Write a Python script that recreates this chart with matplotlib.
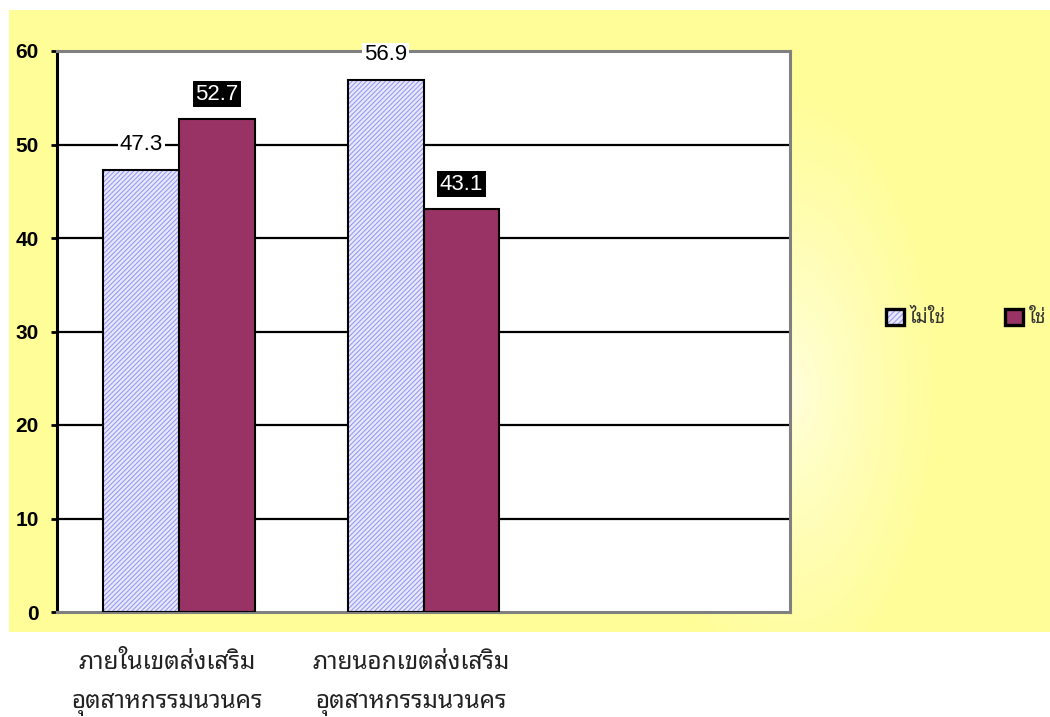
import numpy as np
import matplotlib
matplotlib.use("Agg")
import matplotlib.pyplot as plt
from matplotlib import font_manager
from matplotlib.patches import Patch

categories = ["ภายในเขตส่งเสริม\nอุตสาหกรรมนวนคร", "ภายนอกเขตส่งเสริม\nอุตสาหกรรมนวนคร", ""]
series_names = ["ไม่ใช่", "ใช่"]
values_no = [47.3, 56.9]
values_yes = [52.7, 43.1]
y_ticks = [0, 10, 20, 30, 40, 50, 60]


def pick_family(candidates, fallback="DejaVu Sans"):
    names = {f.name for f in font_manager.fontManager.ttflist}
    for c in candidates:
        if c in names:
            return c
    return fallback


thai_font = pick_family(["Noto Sans Thai Looped", "Sarabun", "Loma", "Noto Sans Thai"])
latin_font = "Liberation Sans"

W, H = 1050, 717
fig = plt.figure(figsize=(W / 100, H / 100), dpi=100, facecolor="white")

# yellow panel with a soft pale glow just right of the plot area
px0, py0, px1, py1 = 9, 10, 1050, 632
bg = fig.add_axes([px0 / W, 1 - py1 / H, (px1 - px0) / W, (py1 - py0) / H], zorder=0)
xs = np.arange(px0, px1)
ys = np.arange(py0, py1)
X, Y = np.meshgrid(xs, ys)
r = np.sqrt(((X - 790) / 150.0) ** 2 + ((Y - 390) / 300.0) ** 2)
t = np.clip(r, 0, 1) ** 0.8
pale = np.array([255, 255, 222]) / 255
yellow = np.array([255, 253, 152]) / 255
img = pale[None, None, :] * (1 - t[..., None]) + yellow[None, None, :] * t[..., None]
bg.imshow(img, aspect="auto", interpolation="bilinear")
bg.set_axis_off()

ax = fig.add_axes([57 / W, 1 - 612 / H, (790 - 57) / W, (612 - 51) / H], zorder=1)
ax.set_facecolor("white")

x = np.arange(len(categories))
n = len(values_no)
bw = 0.311

ax.set_xlim(-0.5, len(categories) - 0.5)
ax.set_ylim(0, 60)

for yv in y_ticks[1:-1]:
    ax.axhline(yv, color="black", lw=1.6, zorder=1)

# hatched light series: hatch layer, then black outline
plt.rcParams["hatch.linewidth"] = 0.8
ax.bar(x[:n] - bw / 2, values_no, width=bw, color="#E8E8FF", edgecolor="#9A9AF2",
       hatch="///////", linewidth=0, zorder=2)
ax.bar(x[:n] - bw / 2, values_no, width=bw, fill=False, edgecolor="black",
       linewidth=1.5, zorder=3)
ax.bar(x[:n] + bw / 2, values_yes, width=bw, color="#993366", edgecolor="black",
       linewidth=1.5, zorder=3)

for xi, v in zip(x[:n] - bw / 2, values_no):
    ax.annotate(f"{v:.1f}", (xi, v), xytext=(0, 18), textcoords="offset points",
                ha="center", va="center", fontsize=16, family=latin_font, color="black",
                bbox=dict(boxstyle="square,pad=0.08", fc="white", ec="none"), zorder=5)
for xi, v in zip(x[:n] + bw / 2, values_yes):
    ax.annotate(f"{v:.1f}", (xi, v), xytext=(0, 18), textcoords="offset points",
                ha="center", va="center", fontsize=16, family=latin_font, color="white",
                bbox=dict(boxstyle="square,pad=0.12", fc="black", ec="none"), zorder=5)

for side in ("top", "right", "bottom"):
    ax.spines[side].set_color("#808080")
    ax.spines[side].set_linewidth(2.2)
ax.spines["left"].set_color("black")
ax.spines["left"].set_linewidth(2.2)

ax.set_yticks(y_ticks)
ax.set_yticklabels([str(v) for v in y_ticks], fontsize=15, fontweight="bold", family=latin_font)
ax.tick_params(axis="y", direction="out", length=4, width=2, pad=9, colors="black")

ax.set_xticks(x - 0.05)
ax.set_xticklabels(categories, fontsize=17.5, family=[thai_font, "DejaVu Sans"],
                   linespacing=1.85, color="#222222")
ax.tick_params(axis="x", length=0, pad=28)

# legend keys: light hatch layer under a black outline, like the bars
key_no = (Patch(facecolor="#E8E8FF", edgecolor="#9A9AF2", hatch="//////", linewidth=0),
          Patch(fill=False, edgecolor="black", linewidth=2.4))
key_yes = Patch(facecolor="#993366", edgecolor="black", linewidth=2.4)
leg = fig.legend([key_no, key_yes], series_names, loc="center",
                 bbox_to_anchor=(966 / W, 1 - 318 / H),
                 ncol=2, frameon=False, prop={"family": [thai_font, "DejaVu Sans"], "size": 13.5},
                 handlelength=0.95, handleheight=0.95, handletextpad=0.3, columnspacing=3.2,
                 labelcolor="#333333")

fig.savefig("out.png", dpi=100, facecolor="white")
